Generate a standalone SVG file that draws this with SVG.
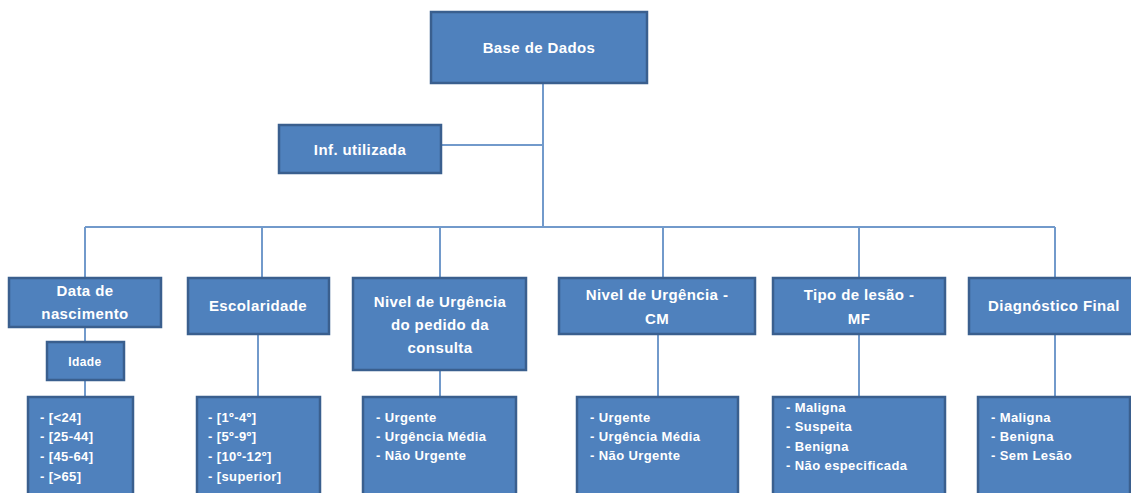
<svg xmlns="http://www.w3.org/2000/svg" width="1131" height="493" viewBox="0 0 1131 493">
<style>
.box{fill:#4f81bd;stroke:#3a5f8e;stroke-width:2.5}
.ln{fill:none;stroke:#729acb;stroke-width:2}
.h{font-family:"Liberation Sans",Arial,sans-serif;font-size:15px;font-weight:bold;letter-spacing:0.4px;fill:#ffffff;text-anchor:middle}
.l{font-family:"Liberation Sans",Arial,sans-serif;font-size:13px;font-weight:bold;letter-spacing:0.4px;fill:#ffffff}
</style>
<rect width="1131" height="493" fill="#ffffff"/>
<g id="connectors">
<path class="ln" d="M543 83V227M441 145H543M85 227H1055M85 227V278M262 227V278M440 227V278M663 227V278M859 227V278M1055 227V278"/>
<path class="ln" d="M85 327V342M85 380V397M258 334V397M440 370V397M658 334V397M859 334V397M1055 334V397"/>
</g>
<g id="base"><rect class="box" x="431" y="12" width="216" height="71"/><text class="h" x="539" y="53">Base de Dados</text></g>
<g id="inf"><rect class="box" x="279" y="125" width="162" height="48"/><text class="h" x="360" y="155">Inf. utilizada</text></g>
<g id="data"><rect class="box" x="9" y="278" width="152" height="49"/><text class="h" x="85" y="296">Data de</text><text class="h" x="85" y="319">nascimento</text></g>
<g id="idade"><rect class="box" x="47" y="342" width="77" height="38"/><text class="h" x="85" y="366" style="font-size:12px">Idade</text></g>
<g id="idade-list"><rect class="box" x="28" y="397" width="105" height="100"/><text class="l" x="40" y="422">- [&lt;24]</text><text class="l" x="40" y="441">- [25-44]</text><text class="l" x="40" y="461">- [45-64]</text><text class="l" x="40" y="481">- [&gt;65]</text></g>
<g id="escolaridade"><rect class="box" x="188" y="278" width="141" height="56"/><text class="h" x="258" y="311">Escolaridade</text></g>
<g id="escolaridade-list"><rect class="box" x="197" y="397" width="123" height="100"/><text class="l" x="208" y="422">- [1º-4º]</text><text class="l" x="208" y="441">- [5º-9º]</text><text class="l" x="208" y="461">- [10º-12º]</text><text class="l" x="208" y="481">- [superior]</text></g>
<g id="pedido"><rect class="box" x="353" y="278" width="173" height="92"/><text class="h" x="440" y="307">Nivel de Urgência</text><text class="h" x="440" y="330">do pedido  da</text><text class="h" x="440" y="353">consulta</text></g>
<g id="pedido-list"><rect class="box" x="363" y="397" width="153" height="100"/><text class="l" x="376" y="422">- Urgente</text><text class="l" x="376" y="441">- Urgência Média</text><text class="l" x="376" y="460">- Não  Urgente</text></g>
<g id="cm"><rect class="box" x="559" y="278" width="196" height="56"/><text class="h" x="657" y="300">Nivel de Urgência -</text><text class="h" x="657" y="324">CM</text></g>
<g id="cm-list"><rect class="box" x="577" y="397" width="161" height="100"/><text class="l" x="590" y="422">- Urgente</text><text class="l" x="590" y="441">- Urgência Média</text><text class="l" x="590" y="460">- Não  Urgente</text></g>
<g id="tipo"><rect class="box" x="773" y="278" width="172" height="56"/><text class="h" x="859" y="300">Tipo de lesão -</text><text class="h" x="859" y="324">MF</text></g>
<g id="tipo-list"><rect class="box" x="773" y="397" width="172" height="100"/><text class="l" x="786" y="412">- Maligna</text><text class="l" x="786" y="431">- Suspeita</text><text class="l" x="786" y="451">- Benigna</text><text class="l" x="786" y="470">- Não  especificada</text></g>
<g id="diagnostico"><rect class="box" x="969" y="278" width="166" height="56"/><text class="h" x="1054" y="311">Diagnóstico Final</text></g>
<g id="diagnostico-list"><rect class="box" x="978" y="397" width="152" height="100"/><text class="l" x="991" y="422">- Maligna</text><text class="l" x="991" y="441">- Benigna</text><text class="l" x="991" y="460">- Sem Lesão</text></g>
</svg>
